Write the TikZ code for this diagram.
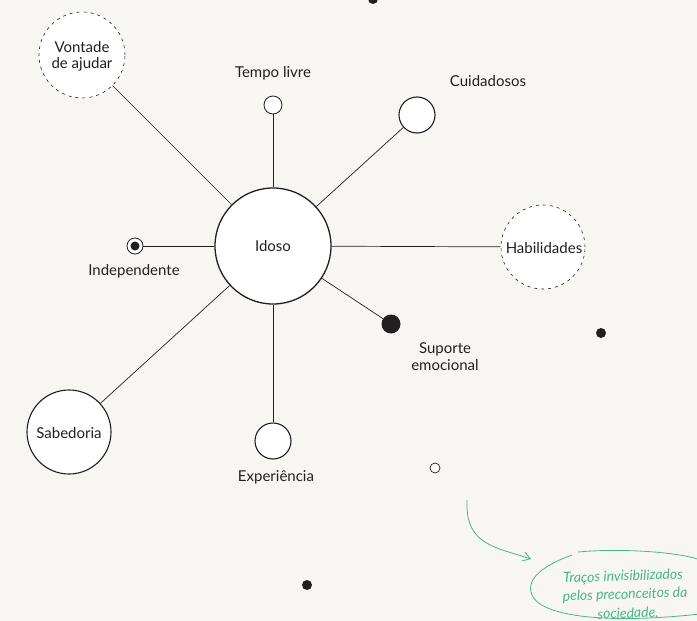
\documentclass[tikz,border=0pt]{standalone}
\usepackage{fontspec}
\setmainfont{Lato}
\usetikzlibrary{arrows.meta}
\definecolor{bg}{RGB}{248,246,243}
\definecolor{ink}{RGB}{35,31,32}
\definecolor{grn}{RGB}{72,180,140}
\tikzset{
  every node/.style={font=\fontsize{15}{17}\selectfont, text=ink},
  bub/.style={circle, draw=ink, line width=1.1pt, fill=white, inner sep=0pt},
  dbub/.style={circle, draw=ink, dashed, dash pattern=on 3pt off 4pt, line width=0.6pt, fill=white, inner sep=0pt},
  dot/.style={circle, fill=ink, inner sep=0pt},
  lbl/.style={align=center, inner sep=0pt},
  link/.style={draw=ink, line width=0.7pt},
  note/.style={font=\itshape\fontsize{14}{17}\selectfont, text=grn, rotate=2, inner sep=0pt},
}
\begin{document}
\begin{tikzpicture}[x=1pt,y=-1pt]
\fill[bg] (0,0) rectangle (697,621);
\useasboundingbox (0,0) rectangle (697,621);
\node[bub, minimum size=116pt, line width=1.3pt] (idoso) at (273,246) {};
\node[dbub, minimum size=86pt] (vont) at (82,55) {};
\node[bub, minimum size=18pt, line width=0.8pt] (tempo) at (273,105) {};
\node[bub, minimum size=36pt] (cuid) at (417,115) {};
\node[dbub, minimum size=84pt] (hab) at (543,247) {};
\node[circle, draw=ink, fill=white, line width=0.8pt, minimum size=16pt, inner sep=0pt] (indep) at (135,246) {};
\node[dot, minimum size=9pt] at (indep) {};
\node[dot, minimum size=19pt] (sup) at (391,324) {};
\node[bub, minimum size=84pt] (sab) at (69,432) {};
\node[bub, minimum size=36pt] (exp) at (273,441) {};
\node[dot, minimum size=10pt] (d1) at (373,-1) {};
\node[dot, minimum size=10pt] (d2) at (601,333) {};
\node[dot, minimum size=10pt] (d3) at (307,585) {};
\node[circle, draw=ink, fill=white, line width=0.7pt, minimum size=10pt, inner sep=0pt] (d4) at (435,468) {};
\path[link] (vont) -- (idoso);
\path[link] (tempo) -- (idoso);
\path[link] (cuid) -- (idoso);
\path[link] (hab) -- (idoso);
\path[link] (indep) -- (idoso);
\path[link] (sup) -- (idoso);
\path[link] (sab) -- (idoso);
\path[link] (exp) -- (idoso);
% labels
\node[lbl] (tI) at (273,246) {Idoso};
\node[lbl] (tV) at (82,56) {Vontade\\[-1pt]de ajudar};
\node[lbl] (tT) at (273,73) {Tempo livre};
\node[lbl] (tC) at (488,81) {Cuidadosos};
\node[lbl, fill=white, inner xsep=1pt] (tH) at (544,248) {Habilidades};
\node[lbl] (tN) at (134,271) {Independente};
\node[lbl] (tS) at (445,357) {Suporte\\emocional};
\node[lbl] (tB) at (69,433) {Sabedoria};
\node[lbl] (tE) at (276,477) {Experiência};
% green annotation
\coordinate (a0) at (467,500);
\coordinate (a1) at (531,559);
\draw[grn, line width=0.8pt, -{Straight Barb[length=7pt,width=9pt]}] (a0) .. controls (465,545) and (495,547) .. (a1);
\draw[grn, line width=0.8pt] (572,555) .. controls (545,565) and (525,578) .. (532,595)
  .. controls (540,615) and (600,625) .. (700,614);
\draw[grn, line width=0.8pt] (578,552) .. controls (620,548) and (680,552) .. (700,560);
\node[note] (n1) at (623,577) {Traços invisibilizados};
\node[note] (n2) at (625,595) {pelos preconceitos da};
\node[note] (n3) at (628,613) {sociedade.};
\end{tikzpicture}
\end{document}
